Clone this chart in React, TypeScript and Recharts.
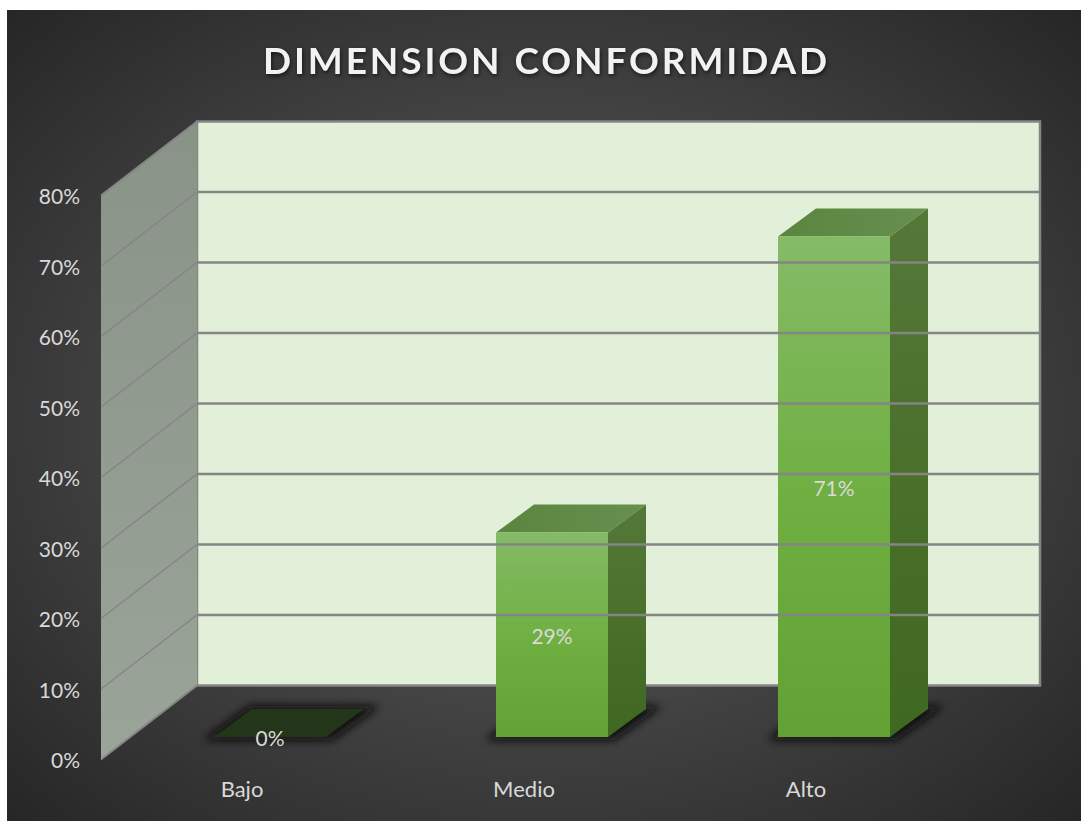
// Pseudo-3D column chart: flat Recharts bars get extruded through custom shapes,
// walls and gridlines hang off the same y scale via reference marks.

import { Bar, BarChart, LabelList, ReferenceArea, ReferenceLine, XAxis, YAxis } from "recharts";

const TITLE = "DIMENSION CONFORMIDAD";
const categories = ["Bajo", "Medio", "Alto"];
const percents = [0, 29, 71];
const yTicks = [0, 10, 20, 30, 40, 50, 60, 70, 80];

const rows = categories.map((name, i) => ({ name, value: percents[i] }));

const FONT = "Lato, sans-serif";
const TICK = "#d9d9d9";
const GRID = "#858585";

// offsets of the wall planes relative to the plane the bars stand on
const FRONT_DX = -28;
const FRONT_DY = 22.5;
const BACK_DX = 68;
const BACK_DY = -51.5;
const BACK_RIGHT = 1040;

// extrusion of each bar
const DEPTH_X = 38;
const DEPTH_Y = 28;

function pts(list: number[][]) {
  return list.map((p) => p.join(",")).join(" ");
}

function Walls(props: any) {
  const { x, y, height } = props;
  const left = x + BACK_DX;
  const top = y + BACK_DY;
  const bottom = y + height + BACK_DY;
  const fx = x + FRONT_DX;
  return (
    <g>
      <rect x={left} y={top} width={BACK_RIGHT - left} height={height} fill="#e2efd9" stroke={GRID} strokeWidth={2.5} />
      <polygon
        points={pts([
          [fx, y + FRONT_DY],
          [left, top],
          [left, bottom],
          [fx, y + height + FRONT_DY],
        ])}
        fill="url(#sideWall)"
      />
      <line x1={fx} y1={y + FRONT_DY} x2={left} y2={top} stroke={GRID} strokeWidth={2} />
      <line x1={fx} y1={y + height + FRONT_DY} x2={left} y2={bottom} stroke={GRID} strokeWidth={2} />
    </g>
  );
}

function GridRow(props: any) {
  const { x1, y1 } = props;
  const left = x1 + BACK_DX;
  const fx = x1 + FRONT_DX;
  return (
    <g>
      <line x1={left} y1={y1 + BACK_DY} x2={BACK_RIGHT} y2={y1 + BACK_DY} stroke={GRID} strokeWidth={2.5} />
      <line x1={fx} y1={y1 + FRONT_DY} x2={left} y2={y1 + BACK_DY} stroke={GRID} strokeWidth={1.5} />
    </g>
  );
}

function Column(props: any) {
  const { x, y, width, height } = props;
  const right = x + width;
  const base = y + height;
  const flat = height < 1;
  return (
    <g>
      <polygon
        points={pts([
          [x - 11, base + 3],
          [right + 6, base + 3],
          [right + DEPTH_X + 16, base - DEPTH_Y - 3],
          [x + DEPTH_X - 2, base - DEPTH_Y - 3],
        ])}
        fill="#0c0c0c"
        filter="url(#floorShadow)"
      />
      <polygon
        points={pts([
          [x, y],
          [right, y],
          [right + DEPTH_X, y - DEPTH_Y],
          [x + DEPTH_X, y - DEPTH_Y],
        ])}
        fill={flat ? "#24361a" : "url(#barTop)"}
      />
      {!flat && (
        <>
          <polygon
            points={pts([
              [right, y],
              [right + DEPTH_X, y - DEPTH_Y],
              [right + DEPTH_X, base - DEPTH_Y],
              [right, base],
            ])}
            fill="url(#barSide)"
          />
          <rect x={x} y={y} width={width} height={height} fill="url(#barFront)" />
        </>
      )}
    </g>
  );
}

function YTick({ y, payload }: any) {
  return (
    <text x={80} y={y + FRONT_DY} textAnchor="end" dominantBaseline="central" fill={TICK} fontSize={21} fontFamily={FONT}>
      {`${payload.value}%`}
    </text>
  );
}

function XTick({ x, payload }: any) {
  return (
    <text x={x + FRONT_DX} y={788} textAnchor="middle" dominantBaseline="central" fill={TICK} fontSize={22} fontFamily={FONT}>
      {payload.value}
    </text>
  );
}

export default function App() {
  return (
    <div style={{ position: "absolute", left: 0, top: 0, width: 1081, height: 821, background: "#fff" }}>
      <div
        style={{
          position: "absolute",
          left: 7,
          top: 10,
          right: 0,
          bottom: 0,
          background: "radial-gradient(ellipse at 50% 50%, #5c5c5c 0%, #444444 50%, #262626 100%)",
        }}
      />
      <BarChart
        width={1081}
        height={821}
        data={rows}
        barSize={112}
        margin={{ top: 173, right: 106, bottom: 0, left: 80 }}
        style={{ position: "absolute", left: 0, top: 0 }}
      >
        <defs>
          <linearGradient id="sideWall" x1="0" y1="0" x2="0" y2="1">
            <stop offset="0%" stopColor="#899387" />
            <stop offset="100%" stopColor="#9ba499" />
          </linearGradient>
          <linearGradient id="barFront" x1="0" y1="0" x2="0" y2="1">
            <stop offset="0%" stopColor="#85bb67" />
            <stop offset="50%" stopColor="#70b043" />
            <stop offset="100%" stopColor="#62a234" />
          </linearGradient>
          <linearGradient id="barSide" x1="0" y1="0" x2="0" y2="1">
            <stop offset="0%" stopColor="#557838" />
            <stop offset="100%" stopColor="#3f6820" />
          </linearGradient>
          <linearGradient id="barTop" x1="0" y1="0" x2="1" y2="0">
            <stop offset="0%" stopColor="#5a8540" />
            <stop offset="100%" stopColor="#67904e" />
          </linearGradient>
          <filter id="floorShadow" x="-30%" y="-80%" width="160%" height="260%">
            <feGaussianBlur stdDeviation="5" />
          </filter>
        </defs>
        <text
          x={546.5}
          y={59}
          textAnchor="middle"
          dominantBaseline="central"
          fill="#f2f2f2"
          fontSize={37}
          fontWeight={700}
          letterSpacing={2.9}
          fontFamily={FONT}
          style={{ filter: "drop-shadow(1px 2px 2px rgba(0,0,0,0.6))" }}
        >
          {TITLE}
        </text>
        <XAxis dataKey="name" height={84} axisLine={false} tickLine={false} tick={<XTick />} interval={0} />
        <YAxis width={49} domain={[0, 80]} ticks={yTicks} axisLine={false} tickLine={false} tick={<YTick />} />
        <ReferenceArea y1={0} y2={80} shape={<Walls />} ifOverflow="visible" />
        {yTicks.slice(1, -1).map((t) => (
          <ReferenceLine key={t} y={t} shape={<GridRow />} />
        ))}
        <Bar dataKey="value" isAnimationActive={false} shape={<Column />}>
          <LabelList
            dataKey="value"
            position="center"
            formatter={(v: number) => `${v}%`}
            fill={TICK}
            fontSize={21}
            fontFamily={FONT}
            dy={2}
          />
        </Bar>
      </BarChart>
    </div>
  );
}
